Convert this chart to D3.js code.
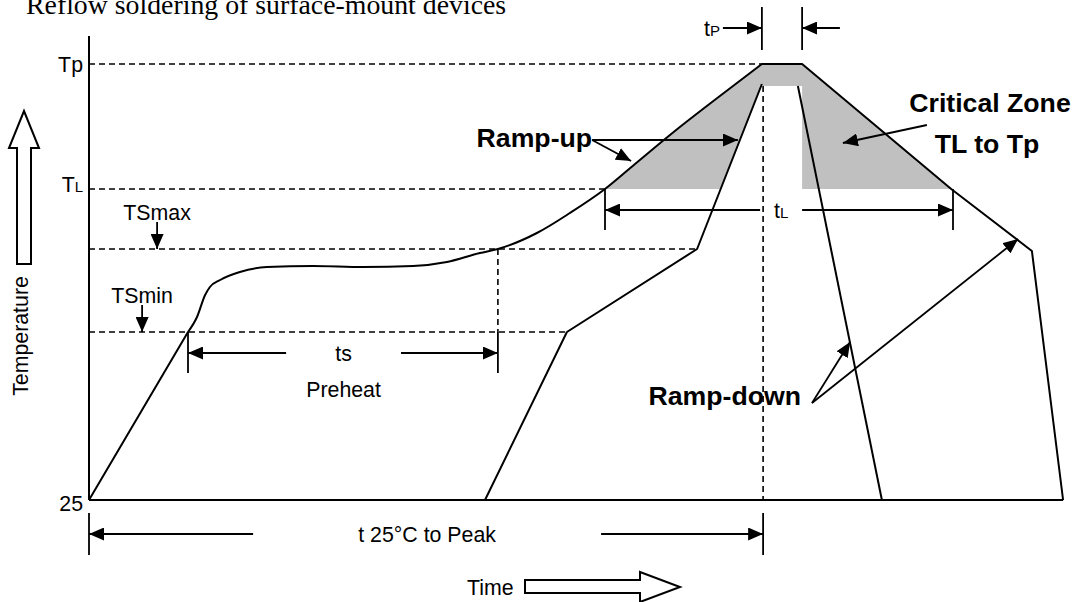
<!DOCTYPE html>
<html>
<head>
<meta charset="utf-8">
<script src="https://cdn.jsdelivr.net/npm/d3@7"></script>
<style>
  html, body { margin: 0; padding: 0; background: #fff; }
  svg { display: block; }
</style>
</head>
<body>
<svg id="chart" width="1075" height="602"></svg>
<script>
// ── data (time in s, temperature in °C) ──
const tickNames = ['Tp', 'TL', '25'];
const tickTemps = [243, 180.5, 25];

const soakNames = ['TSmax', 'TSmin'];
const soakTemps = [150.5, 109];
const soakMarks = [22.7, 17.7];          // time where the little arrows drop

// outer profile: linear rise, smooth soak + reflow, linear cool-down
const profileRise = [[0, 25], [33, 109]];
const profileSoak = [
  [33, 109], [36, 116.5], [38.7, 127.5], [40.3, 131.5], [43.7, 135], [50.3, 139],
  [59.3, 141.5], [74.7, 142], [91.3, 141.5], [108, 142], [119.3, 144], [130.3, 148.5],
  [136.3, 150.5], [149.3, 158.5], [160.3, 168.5], [172, 180.5], [182, 193],
  [195.3, 209.5], [210.3, 227], [224.3, 243]
];
const profileFall = [[224.3, 243], [237.7, 243], [287.4, 180.5], [314.3, 149.5], [324.7, 25]];

// inner profile
const innerRise = [[132, 25], [159.3, 109], [202.7, 150.5], [224.3, 233]];
const innerFall = [[236.3, 232], [264.3, 25]];

// dimension markers
const spanLabels     = ['ts', 'tL', 'tP', 't 25°C to Peak'];
const spanStart      = [33, 172, 224.3, 0];
const spanEnd        = [136.3, 288, 237.7, 224.7];
const spanLevel      = [98.5, 170, 261, 8];
const spanTickTop    = [109, 180.5, 271.5, 18.5];
const spanTickBottom = [88.5, 160, 250, -2.5];
const spanGapStart   = [65.7, 223.7, 211.3, 54.7];
const spanGapEnd     = [104, 237.7, 250.3, 170.7];

// callout arrows [from, to]
const rampUpArrows   = [[[167.7, 205], [180.7, 194.5]], [[167.7, 205], [216.3, 205]]];
const rampDownArrows = [[[241, 73.5], [253.7, 104]], [[241, 73.5], [309.7, 155.5]]];
const zoneArrow      = [[279.3, 212.5], [251.3, 203.5]];

const cutTop = 232;   // top of the unshaded window under the peak

// ── setup ──
const SANS = "'Liberation Sans', Arial, sans-serif";
const REG = 21.33, SMALL = 15, BOLD = 26.67;

const svg = d3.select('#chart');
const x = d3.scaleLinear([0, 325], [89, 1064]);
const y = d3.scaleLinear([25, 243], [500, 64]);

const lin = d3.line(d => x(d[0]), d => y(d[1]));
const smooth = d3.line(d => x(d[0]), d => y(d[1])).curve(d3.curveMonotoneX);
const outerD = lin(profileRise)
  + smooth(profileSoak).replace(/^M/, 'L')
  + lin(profileFall).replace(/^M/, 'L');

const TL = tickTemps[1], TP = tickTemps[0], T25 = tickTemps[2];

const defs = svg.append('defs');
defs.append('marker')
  .attr('id', 'head').attr('viewBox', '0 -6.5 15 13')
  .attr('refX', 15).attr('refY', 0)
  .attr('markerWidth', 15).attr('markerHeight', 13)
  .attr('markerUnits', 'userSpaceOnUse').attr('orient', 'auto')
  .append('path').attr('d', 'M0,-6.5L15,0L0,6.5Z').attr('fill', '#000');

defs.append('clipPath').attr('id', 'under-profile')
  .append('path').attr('d', outerD + 'Z');

// ── critical zone shading ──
svg.append('rect')
  .attr('x', x(0)).attr('width', x(325) - x(0))
  .attr('y', y(TP)).attr('height', y(TL) - y(TP))
  .attr('fill', '#c0c0c0')
  .attr('clip-path', 'url(#under-profile)');

const [a, b] = [innerRise[2], innerRise[3]];
const tCross = a[0] + (TL - a[1]) / (b[1] - a[1]) * (b[0] - a[0]);
const plateauEnd = profileFall[1][0];
svg.append('path')
  .attr('d', lin([[tCross, TL], b, [spanEnd[3], cutTop], [plateauEnd, cutTop], [plateauEnd, TL]]) + 'Z')
  .attr('fill', '#fff');

// ── dashed guides ──
const guides = svg.append('g')
  .attr('stroke', '#000').attr('stroke-width', 1.6).attr('stroke-dasharray', '6,4').attr('fill', 'none');
const guideEnds = [
  [TP, profileSoak[profileSoak.length - 1][0]],
  [TL, profileSoak[15][0]],
  [soakTemps[0], innerRise[2][0]],
  [soakTemps[1], innerRise[1][0]]
];
guideEnds.forEach(([T, t]) => {
  guides.append('line').attr('x1', x(0)).attr('x2', x(t)).attr('y1', y(T)).attr('y2', y(T));
});
guides.append('line')
  .attr('x1', x(spanEnd[0])).attr('x2', x(spanEnd[0]))
  .attr('y1', y(soakTemps[0])).attr('y2', y(soakTemps[1]));
guides.append('line')
  .attr('x1', x(spanEnd[3])).attr('x2', x(spanEnd[3]))
  .attr('y1', y(cutTop)).attr('y2', y(T25));

// ── axes ──
svg.append('line')
  .attr('x1', x(0)).attr('x2', x(0)).attr('y1', y(257)).attr('y2', y(T25))
  .attr('stroke', '#000').attr('stroke-width', 2);
svg.append('line')
  .attr('x1', x(0)).attr('x2', x(profileFall[profileFall.length - 1][0]))
  .attr('y1', y(T25)).attr('y2', y(T25))
  .attr('stroke', '#000').attr('stroke-width', 2);

// ── profiles ──
const prof = svg.append('g').attr('fill', 'none').attr('stroke', '#000').attr('stroke-width', 2)
  .attr('stroke-linejoin', 'round');
prof.append('path').attr('d', outerD);
prof.append('path').attr('d', lin(innerRise));
prof.append('path').attr('d', lin(innerFall));

// ── helpers ──
function label(g, txt, px, py, anchor, size, weight) {
  const t = g.append('text')
    .attr('x', px).attr('y', py)
    .attr('text-anchor', anchor || 'start')
    .attr('font-family', SANS)
    .attr('font-size', size || REG)
    .attr('font-weight', weight || 'normal')
    .attr('fill', '#000');
  // two-letter symbols with an upper-case second letter get a small second letter
  if (txt.length === 2 && /[A-Z]/.test(txt[1])) {
    t.append('tspan').text(txt[0]);
    t.append('tspan').attr('font-size', SMALL).text(txt[1]);
  } else {
    t.text(txt);
  }
  return t;
}
function arrow(g, from, to) {
  g.append('line')
    .attr('x1', x(from[0])).attr('y1', y(from[1]))
    .attr('x2', x(to[0])).attr('y2', y(to[1]))
    .attr('stroke', '#000').attr('stroke-width', 1.8)
    .attr('marker-end', 'url(#head)');
}

const ann = svg.append('g');

// tick labels on the temperature axis
tickNames.forEach((n, i) => {
  const off = n === 'Tp' ? 8 : (n === 'TL' ? 3 : 11);
  label(ann, n, x(0) - 6, y(tickTemps[i]) + off, 'end');
});

// soak limits with small down arrows
soakNames.forEach((n, i) => {
  const T = soakTemps[i];
  arrow(ann, [soakMarks[i], T + 13.5], [soakMarks[i], T]);
  label(ann, n, x(soakMarks[i]), y(T + 13.5) - 2, 'middle');
});

// dimension markers
spanLabels.forEach((n, i) => {
  const t0 = spanStart[i], t1 = spanEnd[i], L = spanLevel[i];
  [t0, t1].forEach(t => {
    ann.append('line')
      .attr('x1', x(t)).attr('x2', x(t))
      .attr('y1', y(spanTickTop[i])).attr('y2', y(spanTickBottom[i]))
      .attr('stroke', '#000').attr('stroke-width', 1.8);
  });
  arrow(ann, [spanGapStart[i], L], [t0, L]);
  arrow(ann, [spanGapEnd[i], L], [t1, L]);
  if (spanGapStart[i] < t0) {
    label(ann, n, x(spanGapStart[i]) - 3, y(L) + 7.5, 'end');
  } else {
    label(ann, n, x((spanGapStart[i] + spanGapEnd[i]) / 2), y(L) + 8, 'middle');
  }
});
label(ann, 'Preheat', x((spanGapStart[0] + spanGapEnd[0]) / 2), y(spanLevel[0]) + 44, 'middle');

// callouts
rampUpArrows.forEach(([f, t]) => arrow(ann, f, t));
label(ann, 'Ramp-up', x(rampUpArrows[0][0][0]), y(rampUpArrows[0][0][1]) + 7, 'end', BOLD, 'bold');

rampDownArrows.forEach(([f, t]) => arrow(ann, f, t));
label(ann, 'Ramp-down', x(rampDownArrows[0][0][0]) - 11, y(rampDownArrows[0][0][1]) + 2, 'end', BOLD, 'bold');

arrow(ann, zoneArrow[0], zoneArrow[1]);
label(ann, 'Critical Zone', 990, 112, 'middle', BOLD, 'bold');
label(ann, 'TL to Tp', 987, 153, 'middle', BOLD, 'bold');

// title (top of the caps runs off the page, as in the original scan)
svg.append('text')
  .attr('x', 26).attr('y', 14)
  .attr('font-family', "'Liberation Serif', 'Times New Roman', serif")
  .attr('font-size', 27.8)
  .text('Reflow soldering of surface-mount devices');

// axis titles with hollow arrows
const tx = 28, ty = 336;
svg.append('text')
  .attr('transform', `translate(${tx},${ty}) rotate(-90)`)
  .attr('text-anchor', 'middle')
  .attr('font-family', SANS).attr('font-size', REG)
  .text('Temperature');
svg.append('path')
  .attr('d', d3.line()([[tx - 11, ty - 72], [tx + 3, ty - 72], [tx + 3, ty - 188], [tx + 11, ty - 188],
    [tx - 4, ty - 225], [tx - 19, ty - 188], [tx - 11, ty - 188]]) + 'Z')
  .attr('fill', '#fff').attr('stroke', '#000').attr('stroke-width', 2);

const mx = 467, my = 595;
svg.append('text')
  .attr('x', mx).attr('y', my)
  .attr('font-family', SANS).attr('font-size', REG)
  .text('Time');
svg.append('path')
  .attr('d', d3.line()([[mx + 58, my - 15], [mx + 173, my - 15], [mx + 173, my - 23], [mx + 213, my - 8],
    [mx + 173, my + 7], [mx + 173, my - 2], [mx + 58, my - 2]]) + 'Z')
  .attr('fill', '#fff').attr('stroke', '#000').attr('stroke-width', 2);
</script>
</body>
</html>
